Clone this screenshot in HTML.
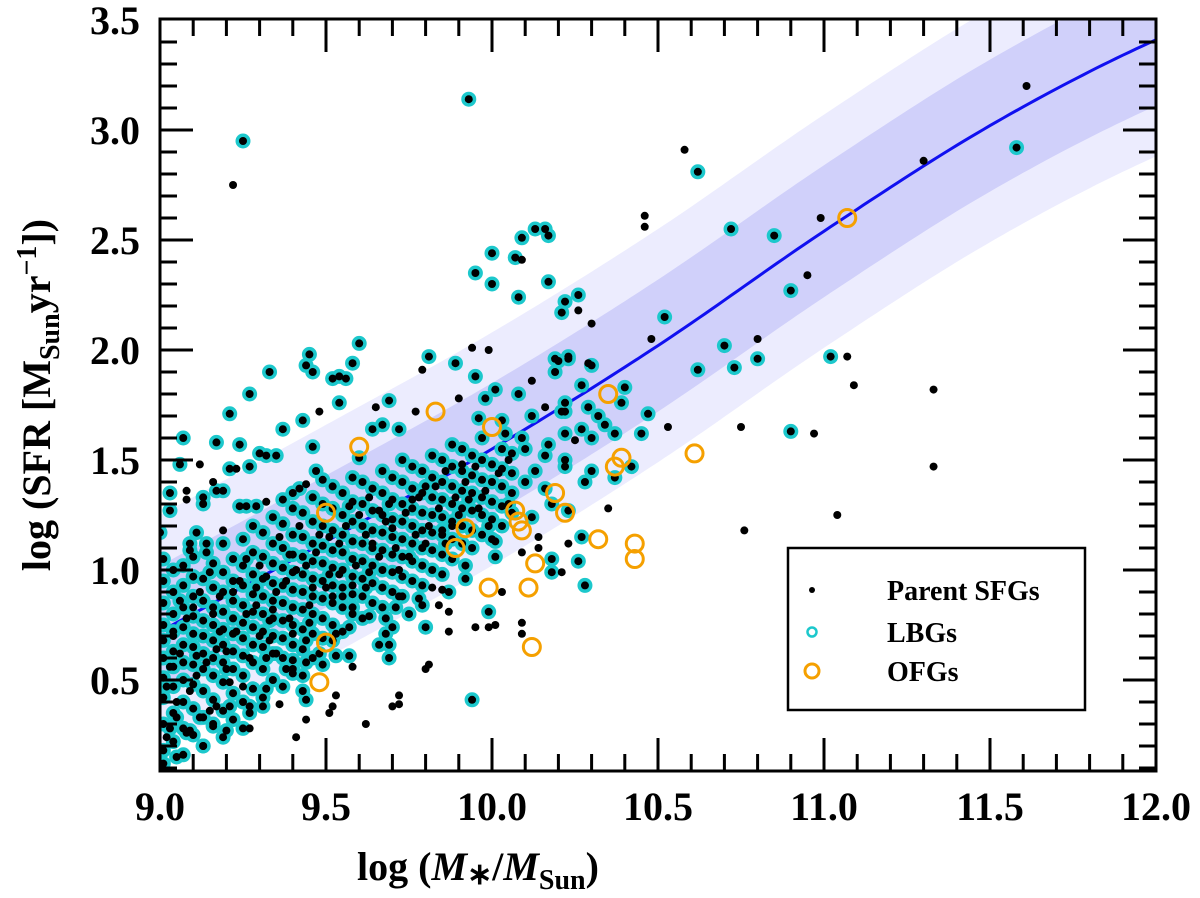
<!DOCTYPE html>
<html><head><meta charset="utf-8"><style>
body{margin:0;background:#fff}
svg{display:block;font-family:"Liberation Serif",serif;font-weight:bold}
</style></head><body>
<svg id="chart" width="1200" height="898" viewBox="0 0 1200 898" xmlns="http://www.w3.org/2000/svg">
<defs><clipPath id="clip"><rect x="160" y="19" width="996" height="752"/></clipPath></defs>
<g id="bands" clip-path="url(#clip)"></g>
<g id="marks" clip-path="url(#clip)"></g>
<rect x="160" y="19" width="996" height="752" fill="none" stroke="#000" stroke-width="3"/>
<g id="ticks"></g>
<text x="478" y="880" font-size="40" text-anchor="middle">log (<tspan font-style="italic">M</tspan><tspan font-size="30" dy="4">∗</tspan><tspan dy="-4">/</tspan><tspan font-style="italic">M</tspan><tspan font-size="28" dy="9">Sun</tspan><tspan dy="-9">)</tspan></text>
<text transform="translate(50,395) rotate(-90)" font-size="40" text-anchor="middle">log (SFR [M<tspan font-size="28" dy="9">Sun</tspan><tspan dy="-9">yr</tspan><tspan font-size="28" dy="-14">−1</tspan><tspan dy="14">])</tspan></text>
<g>
<rect x="788" y="548" width="297" height="162" fill="#fff" stroke="#000" stroke-width="2.5"/>
<circle cx="812" cy="590" r="3" fill="#000"/>
<text x="887" y="600" font-size="28">Parent SFGs</text>
<circle cx="812" cy="632" r="4.5" fill="none" stroke="#1cc8cc" stroke-width="2.5"/>
<text x="887" y="642" font-size="28">LBGs</text>
<circle cx="812" cy="671" r="7" fill="none" stroke="#f5a000" stroke-width="3"/>
<text x="887" y="681" font-size="28">OFGs</text>
</g>
</svg>
<script>
const xTicks=[9.0,9.5,10.0,10.5,11.0,11.5,12.0];
const xTickLabels=["9.0","9.5","10.0","10.5","11.0","11.5","12.0"];
const yTicks=[0.5,1.0,1.5,2.0,2.5,3.0,3.5];
const yTickLabels=["0.5","1.0","1.5","2.0","2.5","3.0","3.5"];
const fitMass=[8.5,9.0,9.5,10.0,10.5,11.0,11.5,12.0,12.5];
const fitSfr=[0.32,0.72,1.13,1.55,2.02,2.54,3.02,3.41,3.70];
const bandInner=0.3;
const bandOuter=0.53;
const denseCols=[9.01,9.04,9.07,9.10,9.13,9.16,9.19,9.22,9.25,9.28,9.31,9.34,9.37,9.40,9.43,9.46,9.49,9.52,9.55,9.58,9.61,9.64,9.67,9.70,9.73,9.76,9.79,9.82,9.85,9.88,9.91,9.94,9.97,10.00,10.03,10.06];
const denseSfr=[
[.18,.30,.42,.51,.60,.68,.75,.85,.95,1.05],
[.22,.35,.47,.56,.63,.72,.80,.90,1.0],
[.16,.28,.40,.50,.58,.66,.74,.83,.93,1.02],
[.25,.37,.48,.57,.65,.71,.79,.88,.97,1.06],
[.20,.33,.45,.55,.62,.70,.77,.86,.96],
[.29,.41,.52,.60,.68,.75,.83,.92,1.03],
[.24,.36,.49,.58,.66,.73,.81,.90,.99,1.12],
[.32,.44,.55,.63,.71,.78,.86,.95,1.05],
[.28,.40,.52,.61,.69,.76,.84,.93,1.02,1.14],
[.46,.58,.66,.74,.81,.89,.98,1.08,1.20],
[.42,.55,.65,.72,.80,.88,.96,1.06,1.17],
[.50,.62,.70,.78,.86,.94,1.03,1.12,1.24],
[.47,.60,.69,.77,.85,.93,1.01,1.10,1.21],
[.55,.66,.75,.83,.91,.99,1.07,1.16,1.28],
[.52,.64,.73,.82,.90,.98,1.06,1.15,1.26],
[.60,.71,.80,.88,.96,1.04,1.12,1.22,1.33],
[.57,.69,.78,.87,.95,1.03,1.11,1.20,1.30],
[.75,.85,.93,1.01,1.09,1.18,1.28,1.38],
[.72,.83,.92,1.00,1.08,1.16,1.25,1.35],
[.80,.89,.97,1.05,1.13,1.22,1.31,1.42],
[.78,.88,.96,1.04,1.12,1.20,1.30,1.40],
[.85,.94,1.02,1.10,1.18,1.27,1.37],
[.83,.92,1.00,1.09,1.17,1.25,1.35,1.45],
[.90,.99,1.07,1.15,1.23,1.32,1.42],
[.88,.97,1.06,1.14,1.22,1.30,1.40,1.50],
[.95,1.04,1.12,1.20,1.28,1.37,1.47],
[.93,1.02,1.10,1.18,1.26,1.35,1.45],
[1.00,1.09,1.17,1.25,1.33,1.42,1.52],
[.98,1.07,1.16,1.24,1.32,1.40,1.50],
[1.05,1.14,1.22,1.30,1.38,1.47,1.57],
[1.12,1.20,1.28,1.36,1.45,1.55],
[1.10,1.18,1.27,1.35,1.43,1.52],
[1.16,1.25,1.33,1.41,1.50,1.60],
[1.14,1.23,1.31,1.40,1.48],
[1.20,1.29,1.38,1.46,1.55],
[1.26,1.35,1.44,1.53]];
const lbgExtra=[[9.25,2.95],[9.93,3.14],[10.62,2.81],[11.58,2.92],[10.72,2.55],[10.85,2.52],[10.90,2.27],[10.52,2.15],[10.62,1.91],[10.70,2.02],[10.73,1.92],[10.80,1.96],[11.02,1.97],[10.90,1.63],[10.47,1.71],[10.16,2.55],[10.13,2.55],[10.09,2.51],[10.17,2.52],[10.07,2.42],[10.00,2.44],[9.95,2.35],[10.0,2.30],[10.08,2.24],[10.17,2.31],[10.22,2.22],[10.26,2.25],[10.21,2.17],[10.20,1.95],[10.23,1.96],[10.30,1.93],[10.27,1.84],[10.40,1.83],[10.39,1.76],[10.29,1.74],[10.21,1.72],[10.32,1.70],[10.37,1.62],[10.30,1.60],[10.45,1.62],[10.42,1.47],[10.37,1.42],[10.22,1.62],[10.27,1.15],[10.28,0.93],[10.30,1.45],
[9.60,2.03],[9.45,1.98],[9.44,1.93],[9.46,1.90],[9.33,1.90],[9.52,1.87],[9.54,1.88],[9.56,1.87],[9.58,1.94],[9.27,1.80],[9.21,1.71],[9.07,1.60],[9.17,1.58],[9.24,1.57],[9.37,1.64],[9.43,1.68],[9.46,1.56],[9.30,1.53],[9.32,1.52],[9.35,1.52],[9.27,1.47],[9.21,1.46],[9.06,1.48],[9.03,1.35],[9.13,1.33],[9.13,1.30],[9.17,1.36],[9.19,1.36],[9.03,1.27],[9.0,1.17],[9.11,1.17],[9.09,1.12],[9.14,1.12],[9.09,1.09],[9.14,1.08],[9.24,1.29],[9.26,1.29],[9.29,1.29],[9.37,1.32],[9.40,1.35],[9.42,1.37],[9.47,1.45],[9.49,1.41],[9.54,1.76],[9.81,1.97],[9.89,1.94],[9.69,1.77],[9.72,1.64],[9.64,1.64],[9.67,1.66],[9.60,1.51],[9.95,1.88],[10.01,1.82],[9.98,1.78],[10.08,1.80],[10.19,1.96],[10.23,1.97],[10.19,1.90],[10.22,1.76],[10.22,1.72],[10.27,1.64],[10.34,1.66],[9.96,1.69],[10.04,1.62],[10.09,1.60],[10.10,1.55],[10.17,1.57],[10.16,1.52],[10.22,1.50],[10.22,1.47],[10.28,1.40],[10.16,1.37],[10.18,1.30],[10.23,1.27],[10.12,1.24],[10.18,1.05],[10.18,0.99],[10.26,1.04],[9.99,0.81],[9.94,0.41],[9.92,1.02],[9.92,0.96],[9.87,0.90],[10.01,1.06],[10.01,1.13],[9.80,0.74],[9.78,0.87],[9.79,0.84],[9.72,0.88],[9.71,0.83],[9.69,0.66],[9.69,0.60],[9.66,0.66],[9.68,0.71],[9.70,0.74],[9.68,0.78],[9.63,0.79],[9.57,0.74],[9.57,0.61],[9.53,0.61],[9.52,0.68],[9.53,0.71],[9.44,0.68],[9.44,0.58],[9.40,0.59],[9.40,0.53],[9.43,0.45],[9.44,0.41],[9.32,0.60],[9.32,0.46],[9.27,0.38],[9.27,0.35],[9.31,0.38],[9.21,0.38],[9.16,0.30],[9.12,0.33],[9.09,0.27],[9.08,0.26],[9.03,0.28],[9.01,0.12],[9.05,0.15],[9.13,0.20],[9.20,0.27],[9.35,0.62],[9.48,0.62],[9.58,0.83],[9.62,0.92],[9.75,0.80],[9.85,1.18],[9.90,1.25],[10.05,1.30],[10.10,1.40],[10.13,1.45],[10.03,1.68],[10.12,1.70],
[9.02,.47],[9.06,.86],[9.11,.61],[9.15,.99],[9.20,.55],[9.26,1.05],[9.33,.77],[9.39,1.07],[9.45,.76],[9.51,.98],[9.57,1.29],[9.63,.99],[9.69,1.30],[9.75,1.06],[9.80,1.38],[9.86,1.12],[9.93,1.32],[9.99,1.20],[9.38,.55],[9.55,.88],[9.05,.33],[9.18,.72],[9.29,.92]];
const parentOnly=[[9.22,2.75],[11.61,3.20],[11.30,2.86],[10.58,2.91],[10.46,2.61],[10.46,2.56],[10.99,2.60],[10.95,2.34],[11.07,1.97],[10.97,1.62],[11.09,1.84],[10.75,1.65],[10.76,1.18],[11.04,1.25],[11.33,1.47],[11.33,1.82],[10.80,2.05],[10.53,1.65],[10.48,2.05],
[9.94,2.01],[9.79,1.91],[9.48,1.72],[9.65,1.74],[9.77,1.72],[9.90,1.78],[10.12,1.86],[10.29,1.94],[10.30,2.12],[10.26,2.18],[10.16,1.74],[10.25,1.59],[10.35,1.28],[10.23,1.12],[10.21,0.99],[10.14,1.10],[10.14,1.15],[10.09,1.08],[10.03,0.90],[10.01,0.75],[9.99,0.74],[9.95,0.74],[10.09,0.76],[10.09,0.71],[9.87,0.72],[9.87,0.81],[9.84,0.84],[9.85,0.91],[9.82,0.92],[9.81,0.57],[9.80,0.55],[9.72,0.43],[9.72,0.39],[9.70,0.38],[9.62,0.30],[9.53,0.43],[9.52,0.38],[9.51,0.35],[9.58,0.56],[9.44,0.32],[9.36,0.39],[9.27,0.28],[9.41,0.24],[9.17,0.38],[9.32,1.31],[9.19,1.18],[9.16,1.40],[9.23,1.46],[9.12,1.48],[9.08,1.32],[9.08,1.36],[9.44,1.39],[10.09,2.41],[9.99,2.00],
[9.02,.24],[9.05,.40],[9.06,.62],[9.08,.78],[9.11,.52],[9.12,.90],[9.15,.36],[9.17,.64],[9.18,.88],[9.21,.49],[9.23,.72],[9.24,.95],[9.27,.60],[9.29,.84],[9.30,1.02],[9.33,.68],[9.35,.90],[9.36,1.15],[9.39,.78],[9.41,1.00],[9.42,1.20],[9.45,.84],[9.47,1.08],[9.50,.92],[9.51,1.15],[9.54,.98],[9.56,1.20],[9.59,1.02],[9.62,1.16],[9.63,1.33],[9.66,1.06],[9.68,1.22],[9.71,1.10],[9.74,1.26],[9.77,1.16],[9.78,1.33],[9.81,1.20],[9.84,1.28],[9.86,1.45],[9.89,1.33],[9.92,1.40],[9.95,1.47],[9.98,1.36],[10.02,1.44],[10.05,1.50],
[9.03,.56],[9.04,.70],[9.09,.45],[9.10,.83],[9.14,.58],[9.16,.80],[9.20,.63],[9.22,.90],[9.25,.47],[9.26,.80],[9.30,.70],[9.32,.97],[9.34,.82],[9.38,.95],[9.40,.71],[9.44,1.02],[9.46,.92],[9.48,1.16],[9.52,.88],[9.54,1.12],[9.58,.93],[9.60,1.25],[9.64,1.12],[9.66,1.27],[9.70,1.19],[9.72,1.00],[9.76,1.32],[9.80,1.12],[9.83,1.38],[9.88,1.20],[9.91,1.48],[9.96,1.28]];
const ofgPoints=[[9.50,1.26],[9.60,1.56],[9.83,1.72],[10.0,1.65],[9.92,1.19],[9.89,1.10],[9.99,0.92],[10.07,1.27],[10.08,1.22],[10.09,1.18],[10.11,0.92],[10.13,1.03],[10.12,0.65],[10.19,1.35],[10.22,1.26],[10.32,1.14],[10.35,1.80],[10.37,1.47],[10.39,1.51],[10.43,1.12],[10.43,1.05],[10.61,1.53],[11.07,2.60],[9.50,0.67],[9.48,0.49]];

const NS="http://www.w3.org/2000/svg";
const X=v=>160+(v-9)*332;
const Y=v=>130-(v-3)*220;
function fit(m){
  let i=1;while(i<fitMass.length-3&&m>fitMass[i+1])i++;
  const x0=fitMass[i],x1=fitMass[i+1],y0=fitSfr[i],y1=fitSfr[i+1];
  const h=x1-x0,t=(m-x0)/h;
  const m0=(y1-fitSfr[i-1])/2,m1=(fitSfr[i+2]-y0)/2;
  const t2=t*t,t3=t2*t;
  return (2*t3-3*t2+1)*y0+(t3-2*t2+t)*m0+(-2*t3+3*t2)*y1+(t3-t2)*m1;
}
function mk(tag,parent,attrs){const e=document.createElementNS(NS,tag);for(const k in attrs)e.setAttribute(k,attrs[k]);parent.appendChild(e);return e;}
const bands=document.getElementById('bands');
function bandPath(w){let top=[],bot=[];for(let m=8.9;m<=12.11;m+=0.02){top.push(X(m).toFixed(1)+','+Y(fit(m)+w).toFixed(1));bot.unshift(X(m).toFixed(1)+','+Y(fit(m)-w).toFixed(1));}return 'M'+top.join(' L')+' L'+bot.join(' L')+'Z';}
const b1=mk('path',bands,{d:bandPath(bandOuter),fill:'#ececfe'});


const b2=mk('path',bands,{d:bandPath(bandInner),fill:'#d0d0fa'});


let lp=[];for(let m=9.0;m<=12.11;m+=0.02)lp.push(X(m).toFixed(1)+','+Y(fit(m)).toFixed(1));
const fl=mk('path',bands,{d:'M'+lp.join(' L'),fill:'none',stroke:'#1010f0','stroke-width':3});



const lbgAll=[];
denseCols.forEach((m,i)=>denseSfr[i].forEach(s=>lbgAll.push([m,s])));
lbgExtra.forEach(p=>lbgAll.push(p));
const marks=document.getElementById('marks');
lbgAll.forEach(p=>{const c=mk('circle',marks,{cx:X(p[0]),cy:Y(p[1]),r:7.5,fill:'#1cc8cc'});

});
lbgAll.concat(parentOnly).forEach(p=>{const c=mk('circle',marks,{cx:X(p[0]),cy:Y(p[1]),r:4,fill:'#000'});

});
ofgPoints.forEach(p=>{const c=mk('circle',marks,{cx:X(p[0]),cy:Y(p[1]),r:8.5,fill:'none',stroke:'#f5a000','stroke-width':3});

});

const ticks=document.getElementById('ticks');
for(let i=0;i<=30;i++){const v=9+i*0.1;const maj=i%5===0;const L=maj?33:17;const x=X(v);
mk('line',ticks,{x1:x,x2:x,y1:771,y2:771-L,stroke:'#000','stroke-width':3});
mk('line',ticks,{x1:x,x2:x,y1:19,y2:19+L,stroke:'#000','stroke-width':3});}
for(let i=1;i<=34;i++){const v=0.1*i;const y=Y(v);if(y<19||y>771)continue;const maj=i%5===0;const L=maj?33:17;
mk('line',ticks,{x1:160,x2:160+L,y1:y,y2:y,stroke:'#000','stroke-width':3});
mk('line',ticks,{x1:1156,x2:1156-L,y1:y,y2:y,stroke:'#000','stroke-width':3});}
xTicks.forEach((v,i)=>{const t=mk('text',ticks,{x:X(v),y:820,'font-size':40,'text-anchor':'middle'});t.textContent=xTickLabels[i];

});
yTicks.forEach((v,i)=>{const t=mk('text',ticks,{x:140,y:Y(v)+14,'font-size':40,'text-anchor':'end'});t.textContent=yTickLabels[i];

});
</script>
</body></html>
